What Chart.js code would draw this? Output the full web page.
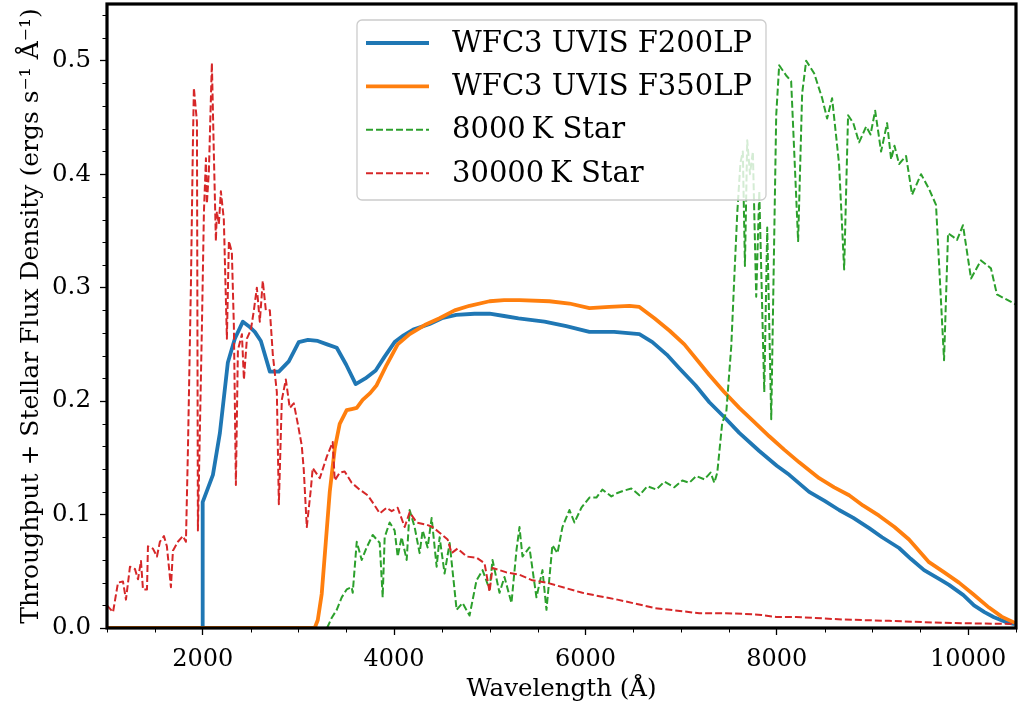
<!DOCTYPE html>
<html><head><meta charset="utf-8">
<script src="https://cdn.jsdelivr.net/npm/chart.js@4.4.1/dist/chart.umd.min.js"></script>
<style>html,body{margin:0;padding:0;background:#fff}canvas{display:block}</style>
</head><body><canvas id="c" width="1018" height="709"></canvas>
<script>
// ---- tick labels ----
const xTickValues = [2000, 4000, 6000, 8000, 10000];
const xMinorTicks = [1000,1500,2500,3000,3500,4500,5000,5500,6500,7000,7500,8500,9000,9500,10500];
const yTickValues = [0.0, 0.1, 0.2, 0.3, 0.4, 0.5];
const yMinorTicks = [0.02,0.04,0.06,0.08,0.12,0.14,0.16,0.18,0.22,0.24,0.26,0.28,0.32,0.34,0.36,0.38,0.42,0.44,0.46,0.48,0.52,0.54];

// ---- series labels ----
const seriesLabels = ['WFC3 UVIS F200LP', 'WFC3 UVIS F350LP', '8000\u2009K Star', '30000\u2009K Star'];

// ---- F200LP throughput ----
const f200Wave = [1995,2000,2107,2180,2263,2336,2420,2482,2545,2608,2702,2796,2900,3004,3100,3203,3300,3401,3500,3599,3700,3808,3900,4006,4100,4200,4372,4500,4650,4841,4998,5150,5300,5572,5800,6042,6300,6564,6700,6850,6981,7150,7295,7450,7608,7817,8000,8130,8338,8500,8651,8800,8965,9100,9278,9400,9539,9700,9800,9950,10061,10170,10270,10400,10489];
const f200Thru = [0,0.111,0.135,0.172,0.234,0.255,0.270,0.266,0.261,0.253,0.226,0.226,0.235,0.252,0.254,0.253,0.250,0.247,0.232,0.215,0.220,0.227,0.239,0.252,0.258,0.263,0.268,0.273,0.276,0.277,0.277,0.275,0.273,0.270,0.266,0.261,0.261,0.259,0.252,0.241,0.229,0.214,0.199,0.186,0.172,0.156,0.143,0.135,0.120,0.112,0.104,0.097,0.088,0.080,0.0705,0.061,0.051,0.043,0.038,0.029,0.020,0.014,0.0095,0.005,0.0035];

// ---- F350LP throughput ----
const f350Wave = [1000,3171,3203,3244,3286,3328,3380,3432,3505,3557,3610,3672,3750,3818,3923,4038,4163,4320,4476,4633,4789,4998,5150,5311,5624,5833,6042,6250,6460,6564,6721,6880,7034,7295,7450,7608,7760,7921,8080,8234,8443,8600,8756,8900,9069,9230,9382,9591,9750,9904,10050,10218,10350,10489];
const f350Thru = [0,0,0.007,0.030,0.075,0.120,0.158,0.180,0.192,0.193,0.194,0.201,0.207,0.214,0.232,0.250,0.259,0.267,0.273,0.280,0.284,0.288,0.289,0.289,0.288,0.286,0.282,0.283,0.284,0.283,0.273,0.262,0.250,0.223,0.208,0.194,0.182,0.169,0.157,0.146,0.132,0.124,0.117,0.108,0.099,0.089,0.078,0.058,0.049,0.040,0.030,0.018,0.010,0.0045];

// ---- 8000 K star flux ----
const star8kWave = [3300,3349,3401,3453,3505,3557,3568,3610,3662,3714,3777,3850,3881,3902,3954,4006,4038,4079,4132,4163,4215,4267,4299,4351,4393,4445,4476,4528,4581,4654,4716,4789,4862,4925,4998,5029,5102,5154,5227,5280,5311,5342,5415,5488,5551,5593,5655,5708,5760,5833,5885,5958,6042,6115,6177,6271,6334,6400,6480,6564,6647,6741,6825,6929,7013,7086,7159,7243,7308,7347,7378,7430,7472,7524,7555,7587,7620,7645,7667,7691,7720,7750,7785,7817,7869,7900,7942,7994,8025,8098,8150,8223,8265,8307,8390,8474,8526,8578,8651,8704,8745,8800,8860,8934,8980,9028,9090,9153,9195,9230,9278,9351,9414,9508,9591,9664,9748,9790,9840,9884,9946,10030,10134,10238,10301,10457,10500];
const star8kFlux = [0,0.009,0.016,0.027,0.034,0.036,0.031,0.076,0.060,0.071,0.082,0.075,0.027,0.080,0.093,0.086,0.063,0.080,0.060,0.104,0.089,0.066,0.086,0.071,0.097,0.054,0.080,0.048,0.075,0.016,0.022,0.011,0.042,0.051,0.034,0.060,0.031,0.045,0.022,0.069,0.089,0.063,0.071,0.027,0.051,0.016,0.073,0.066,0.089,0.104,0.093,0.106,0.115,0.115,0.122,0.116,0.119,0.121,0.123,0.117,0.125,0.122,0.129,0.124,0.130,0.128,0.134,0.131,0.137,0.128,0.137,0.181,0.190,0.248,0.307,0.366,0.410,0.420,0.319,0.430,0.400,0.420,0.292,0.385,0.208,0.353,0.184,0.452,0.496,0.487,0.482,0.341,0.471,0.500,0.489,0.467,0.449,0.467,0.409,0.316,0.452,0.445,0.428,0.442,0.435,0.456,0.420,0.445,0.413,0.425,0.409,0.416,0.382,0.400,0.387,0.373,0.236,0.348,0.345,0.342,0.355,0.308,0.324,0.317,0.294,0.287,0.285];

// ---- 30000 K star flux ----
const star30kWave = [1000,1063,1115,1167,1198,1240,1292,1324,1355,1376,1418,1428,1480,1522,1553,1595,1626,1668,1689,1741,1793,1825,1846,1877,1898,1908,1940,1950,1992,2013,2034,2044,2065,2096,2117,2138,2148,2169,2190,2221,2253,2274,2305,2326,2347,2368,2410,2431,2462,2504,2535,2566,2597,2628,2660,2702,2733,2775,2796,2827,2869,2910,2952,2994,3035,3056,3088,3130,3150,3224,3297,3359,3380,3432,3484,3557,3641,3724,3798,3850,3923,3975,4038,4111,4163,4236,4341,4403,4476,4560,4601,4664,4758,4862,4946,4998,5029,5175,5311,5446,5593,5802,5969,6146,6334,6731,7190,7462,7650,7838,7994,8200,8694,9174,9727,10093,10500];
const star30kFlux = [0.020,0.014,0.040,0.041,0.025,0.054,0.052,0.043,0.059,0.034,0.034,0.072,0.070,0.063,0.076,0.081,0.072,0.036,0.068,0.076,0.081,0.076,0.158,0.302,0.428,0.476,0.446,0.086,0.266,0.367,0.414,0.374,0.403,0.498,0.417,0.341,0.367,0.356,0.385,0.360,0.255,0.341,0.331,0.266,0.126,0.245,0.259,0.219,0.255,0.263,0.280,0.300,0.270,0.306,0.280,0.280,0.241,0.208,0.109,0.201,0.219,0.194,0.198,0.180,0.161,0.140,0.089,0.122,0.141,0.132,0.151,0.164,0.130,0.137,0.138,0.128,0.122,0.117,0.108,0.101,0.106,0.103,0.106,0.089,0.102,0.093,0.091,0.089,0.084,0.078,0.066,0.070,0.063,0.062,0.057,0.032,0.053,0.049,0.047,0.042,0.040,0.035,0.031,0.028,0.025,0.0175,0.013,0.013,0.0125,0.0115,0.0097,0.0097,0.0075,0.0063,0.0046,0.0040,0.0035];

const seriesColors = ['#1f77b4', '#ff7f0e', '#2ca02c', '#d62728'];

function pts(xs, ys) { return xs.map((x, i) => ({ x: x, y: ys[i] })); }

const FONT = '"DejaVu Serif", "Liberation Serif", serif';

const framePlugin = {
  id: 'frame',
  afterDatasetsDraw(chart) {
    const { ctx, chartArea: a, scales: { x, y } } = chart;
    ctx.save();
    ctx.strokeStyle = '#000';
    ctx.lineWidth = 1;
    ctx.beginPath();
    xMinorTicks.forEach(v => { const px = Math.round(x.getPixelForValue(v)) + 0.5; ctx.moveTo(px, a.bottom); ctx.lineTo(px, a.bottom + 4.5); });
    yMinorTicks.forEach(v => { const py = Math.round(y.getPixelForValue(v)) + 0.5; ctx.moveTo(a.left, py); ctx.lineTo(a.left - 4.5, py); });
    ctx.stroke();
    ctx.lineWidth = 3.2;
    ctx.strokeRect(a.left, a.top, a.right - a.left, a.bottom - a.top);
    ctx.restore();
  }
};

const legendPlugin = {
  id: 'innerLegend',
  afterDraw(chart) {
    const { ctx, chartArea: a } = chart;
    const cx = (a.left + a.right) / 2;
    const bw = 409, bh = 180;
    const bx = cx - bw / 2, by = a.top + 16;
    ctx.save();
    ctx.beginPath();
    if (ctx.roundRect) ctx.roundRect(bx, by, bw, bh, 5); else ctx.rect(bx, by, bw, bh);
    ctx.fillStyle = 'rgba(255,255,255,0.8)';
    ctx.fill();
    ctx.strokeStyle = '#cccccc';
    ctx.lineWidth = 1.3;
    ctx.stroke();
    chart.data.datasets.forEach((ds, i) => {
      const ry = by + 23 + i * 43.4;
      ctx.beginPath();
      ctx.setLineDash(ds.borderDash || []);
      ctx.lineWidth = ds.borderWidth;
      ctx.strokeStyle = ds.borderColor;
      ctx.moveTo(bx + 9, ry);
      ctx.lineTo(bx + 72, ry);
      ctx.stroke();
      ctx.setLineDash([]);
      ctx.fillStyle = '#000';
      ctx.font = '29px ' + FONT;
      ctx.textBaseline = 'middle';
      ctx.textAlign = 'left';
      ctx.fillText(ds.label, bx + 95, ry + 1);
    });
    ctx.restore();
  }
};

const common = { pointRadius: 0, tension: 0, fill: false, borderJoinStyle: 'round' };

new Chart(document.getElementById('c'), {
  type: 'line',
  data: {
    datasets: [
      Object.assign({ label: seriesLabels[0], data: pts(f200Wave, f200Thru), borderColor: seriesColors[0], borderWidth: 3.8, order: 4 }, common),
      Object.assign({ label: seriesLabels[1], data: pts(f350Wave, f350Thru), borderColor: seriesColors[1], borderWidth: 3.8, order: 3 }, common),
      Object.assign({ label: seriesLabels[2], data: pts(star8kWave, star8kFlux), borderColor: seriesColors[2], borderWidth: 2, borderDash: [7, 3], order: 2 }, common),
      Object.assign({ label: seriesLabels[3], data: pts(star30kWave, star30kFlux), borderColor: seriesColors[3], borderWidth: 2, borderDash: [7, 3], order: 1 }, common)
    ]
  },
  options: {
    responsive: false,
    animation: false,
    devicePixelRatio: 1,
    layout: { padding: { left: 0, right: 2, top: 4, bottom: 0 } },
    plugins: { legend: { display: false }, tooltip: { enabled: false } },
    scales: {
      x: {
        type: 'linear', min: 1000, max: 10500,
        afterBuildTicks: s => { s.ticks = xTickValues.map(v => ({ value: v })); },
        afterFit: s => { s.height = 81; s.paddingLeft = 0; s.paddingRight = 0; },
        grid: { drawOnChartArea: false, drawTicks: true, tickLength: 7, tickColor: '#000', tickWidth: 1.3 },
        border: { display: false },
        ticks: { autoSkip: false, maxRotation: 0, padding: 10, color: '#000', font: { family: FONT, size: 24 }, callback: v => String(v) },
        title: { display: true, text: 'Wavelength (Å)', color: '#000', font: { family: FONT, size: 24.5 }, padding: { top: 0, bottom: 5 } }
      },
      y: {
        type: 'linear', min: 0, max: 0.55,
        afterBuildTicks: s => { s.ticks = yTickValues.map(v => ({ value: v })); },
        afterFit: s => { s.width = 107; s.paddingTop = 0; s.paddingBottom = 0; },
        grid: { drawOnChartArea: false, drawTicks: true, tickLength: 7, tickColor: '#000', tickWidth: 1.3 },
        border: { display: false },
        ticks: { autoSkip: false, padding: 9, color: '#000', font: { family: FONT, size: 24.5 }, callback: v => Number(v).toFixed(1) },
        title: { display: true, text: 'Throughput + Stellar Flux Density (ergs s\u207B\u00B9 \u00C5\u207B\u00B9)', color: '#000', font: { family: FONT, size: 25 }, padding: { top: 16, bottom: 0 } }
      }
    }
  },
  plugins: [framePlugin, legendPlugin]
});
</script>
</body></html>
